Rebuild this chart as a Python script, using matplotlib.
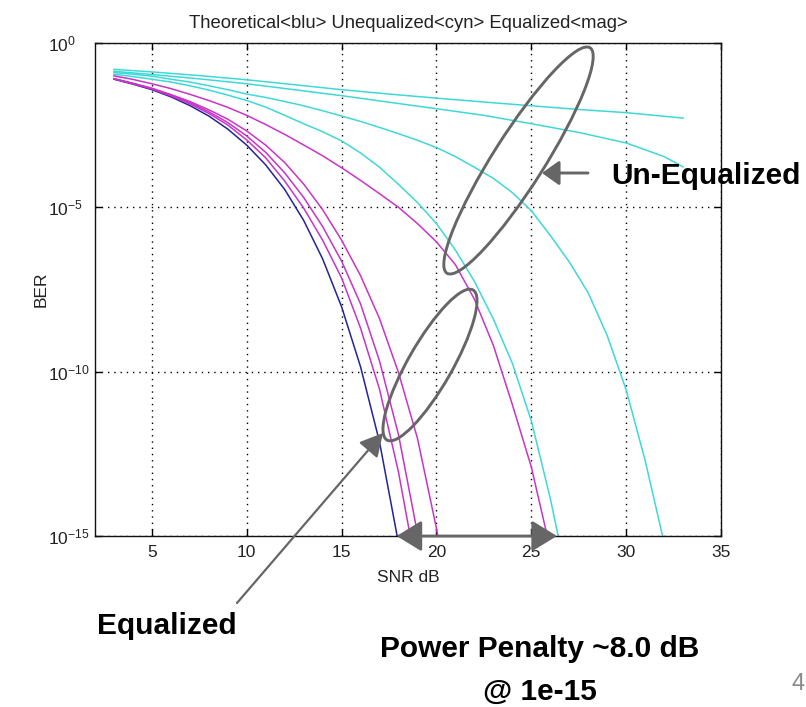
import numpy as np
import matplotlib
matplotlib.use('Agg')
import matplotlib.pyplot as plt
from matplotlib.patches import Ellipse, FancyArrowPatch

# ---------------- data ----------------
snr_theory = [3, 4, 5, 6, 7, 8, 9, 10, 11, 12, 13, 14, 15, 16, 17, 18]
ber_theory = [7.9e-2, 5.6e-2, 3.8e-2, 2.3e-2, 1.25e-2, 6.0e-3, 2.4e-3, 7.8e-4,
              1.95e-4, 3.5e-5, 4.0e-6, 2.7e-7, 9.4e-9, 1.4e-10, 7.2e-13, 6.0e-16]

# equalized (magenta)
snr_eq1 = [3, 4, 5, 6, 7, 8, 9, 10, 11, 12, 13, 14, 15, 16, 17, 18, 19]
ber_eq1 = [8.1e-2, 5.75e-2, 4.0e-2, 2.45e-2, 1.41e-2, 7.2e-3, 3.2e-3, 1.12e-3,
           3.2e-4, 6.3e-5, 9.5e-6, 1.0e-6, 7.1e-8, 2.1e-9, 2.9e-11, 8.7e-14, 6.3e-17]
snr_eq2 = [3, 4, 5, 6, 7, 8, 9, 10, 11, 12, 13, 14, 15, 16, 17, 18, 19, 20]
ber_eq2 = [8.2e-2, 5.9e-2, 4.1e-2, 2.6e-2, 1.55e-2, 8.1e-3, 3.8e-3, 1.48e-3,
           4.7e-4, 1.12e-4, 2.0e-5, 2.6e-6, 2.3e-7, 1.15e-8, 2.1e-10, 1.2e-12,
           1.2e-15, 3.0e-19]
snr_eq3 = [3, 4, 5, 6, 7, 8, 9, 10, 11, 12, 13, 14, 15, 16, 17, 18, 19, 20, 21]
ber_eq3 = [8.2e-2, 5.95e-2, 4.2e-2, 2.7e-2, 1.66e-2, 9.3e-3, 4.8e-3, 2.1e-3,
           7.8e-4, 2.3e-4, 5.1e-5, 8.5e-6, 1.0e-6, 8.3e-8, 4.1e-9, 9.3e-11,
           9.3e-13, 1.7e-15, 1.3e-18]
snr_eq4 = [3, 4, 5, 6, 7, 8, 9, 10, 11, 12, 13, 14, 15, 16, 17, 18, 19, 20,
           21, 22, 23, 24, 25, 26]
ber_eq4 = [1.0e-1, 7.8e-2, 5.75e-2, 4.1e-2, 2.75e-2, 1.78e-2, 1.1e-2, 6.3e-3,
           3.3e-3, 1.66e-3, 7.9e-4, 3.7e-4, 1.6e-4, 6.6e-5, 2.6e-5, 1.0e-5,
           3.2e-6, 8.9e-7, 1.8e-7, 1.6e-8, 6.3e-10, 1.0e-11, 1.26e-13, 4.0e-16]

# unequalized (cyan)
snr_un1 = [3, 5, 7.5, 10, 12.5, 15, 17.5, 20, 22.5, 25, 27.5, 30, 33]
ber_un1 = [1.58e-1, 1.32e-1, 1.02e-1, 7.6e-2, 5.4e-2, 3.8e-2, 2.8e-2, 2.1e-2,
           1.6e-2, 1.23e-2, 9.5e-3, 7.6e-3, 5.2e-3]
snr_un2 = [3, 5, 7.5, 10, 12.5, 15, 17.5, 20, 22.5, 25, 27.5, 30, 32, 33]
ber_un2 = [1.38e-1, 1.1e-1, 8.1e-2, 5.75e-2, 3.8e-2, 2.5e-2, 1.58e-2, 1.0e-2,
           6.3e-3, 3.5e-3, 1.9e-3, 9.1e-4, 3.5e-4, 1.7e-4]
snr_un3 = [3, 4, 5, 6, 7, 8, 9, 10, 11, 12, 13, 14, 15, 16, 17, 18, 19, 20,
           21, 22, 23, 24, 25, 26, 27, 28, 29, 30, 31, 32]
ber_un3 = [1.26e-1, 1.12e-1, 9.8e-2, 7.9e-2, 6.5e-2, 5.0e-2, 3.8e-2, 2.8e-2,
           2.2e-2, 1.66e-2, 1.23e-2, 8.7e-3, 6.0e-3, 4.1e-3, 2.7e-3, 1.74e-3,
           1.1e-3, 6.6e-4, 3.5e-4, 1.66e-4, 7.6e-5, 2.8e-5, 7.9e-6, 1.4e-6,
           2.2e-7, 2.5e-8, 1.26e-9, 2.8e-11, 2.0e-13, 6.3e-16]
snr_un4 = [3, 4, 5, 6, 7, 8, 9, 10, 11, 12, 13, 14, 15, 16, 17, 18, 19, 20,
           21, 22, 23, 24, 25, 26, 27]
ber_un4 = [1.12e-1, 9.5e-2, 7.9e-2, 6.5e-2, 5.0e-2, 3.7e-2, 2.6e-2, 1.78e-2,
           1.12e-2, 6.3e-3, 3.5e-3, 2.0e-3, 1.05e-3, 4.5e-4, 1.66e-4, 5.0e-5,
           1.4e-5, 3.2e-6, 5.0e-7, 5.6e-8, 4.0e-9, 1.8e-10, 3.2e-12, 1.4e-14,
           2.5e-17]

x_ticks = [5, 10, 15, 20, 25, 30, 35]
x_tick_labels = ['5', '10', '15', '20', '25', '30', '35']
y_ticks = [1e-15, 1e-10, 1e-5, 1e0]
y_tick_labels = [r'$\mathregular{10^{-15}}$', r'$\mathregular{10^{-10}}$',
                 r'$\mathregular{10^{-5}}$', r'$\mathregular{10^{0}}$']

title_text = 'Theoretical<blu> Unequalized<cyn> Equalized<mag>'
penalty_lo, penalty_hi = 17.9, 26.35   # arrow ends at BER 1e-15
penalty_ber = 1e-15

# ---------------- styling ----------------
plt.rcParams['font.family'] = ['Liberation Sans', 'DejaVu Sans']
plt.rcParams['mathtext.fontset'] = 'custom'
plt.rcParams['mathtext.rm'] = 'Liberation Sans'
plt.rcParams['mathtext.it'] = 'Liberation Sans:italic'
plt.rcParams['mathtext.bf'] = 'Liberation Sans:bold'

BLUE = '#23239a'
MAG = '#c834c8'
CYN = '#3fd8d8'
GRAY = '#666666'
TXT = '#222222'
BOLDFAM = ['Liberation Sans', 'DejaVu Sans']
ANN_FS = 21.5

W, H = 806, 707
fig = plt.figure(figsize=(W / 100, H / 100), dpi=100)
L, R, T, B = 95, 721, 43, 536
ax = fig.add_axes([L / W, 1 - B / H, (R - L) / W, (B - T) / H])
ax.set_yscale('log')
ax.set_xlim(2, 35)
ax.set_ylim(1e-15, 1)

lw = 1.1
ax.plot(snr_theory, ber_theory, color=BLUE, lw=lw)
for s, b in [(snr_un1, ber_un1), (snr_un2, ber_un2), (snr_un3, ber_un3), (snr_un4, ber_un4)]:
    ax.plot(s, b, color=CYN, lw=lw)
for s, b in [(snr_eq1, ber_eq1), (snr_eq2, ber_eq2), (snr_eq3, ber_eq3), (snr_eq4, ber_eq4)]:
    ax.plot(s, b, color=MAG, lw=lw)

ax.set_xticks(x_ticks)
ax.set_xticklabels(x_tick_labels)
ax.set_yticks(y_ticks)
ax.set_yticklabels(y_tick_labels, ha='left')
ax.minorticks_off()
ax.tick_params(axis='both', direction='in', length=5, width=1, top=True, right=True,
               labelsize=12.5, labelcolor=TXT)
ax.tick_params(axis='x', pad=6.5)
ax.tick_params(axis='y', pad=34)
ax.grid(True, which='major', linestyle=(0, (1, 3.5)), color='k', lw=1.0)
for sp in ax.spines.values():
    sp.set_linewidth(1.0)
    sp.set_color('#111111')

ax.set_title(title_text, fontsize=13.3, color=TXT, pad=10.5)
ax.set_xlabel('SNR dB', fontsize=12.5, color=TXT)
ax.xaxis.set_label_coords(0.5, -0.069)
ax.set_ylabel('BER', fontsize=12.5, color=TXT)
ax.yaxis.set_label_coords(-0.0735, 0.5)

# power-penalty double arrow along the 1e-15 line
pp = FancyArrowPatch((penalty_lo, penalty_ber), (penalty_hi, penalty_ber),
                     arrowstyle='<|-|>,head_length=15.5,head_width=9.5',
                     mutation_scale=1, color=GRAY, lw=2.0, shrinkA=0, shrinkB=0,
                     clip_on=False, zorder=6)
ax.add_patch(pp)

# ---------------- overlay for annotations (pixel coordinates) ----------------
ov = fig.add_axes([0, 0, 1, 1], zorder=5)
ov.set_xlim(0, W)
ov.set_ylim(H, 0)
ov.axis('off')
ov.patch.set_alpha(0)

ov.add_patch(Ellipse((518.5, 160.5), 267, 51, angle=-57.6, fill=False,
                     edgecolor=GRAY, lw=2.1))
ov.add_patch(Ellipse((430, 365), 173, 44, angle=-60.2, fill=False,
                     edgecolor=GRAY, lw=2.1))
ov.add_patch(FancyArrowPatch((588, 173), (542, 173),
                             arrowstyle='-|>,head_length=10.5,head_width=7.5',
                             mutation_scale=1, color=GRAY, lw=2.1,
                             shrinkA=0, shrinkB=0))
ov.add_patch(FancyArrowPatch((237, 603), (383, 433),
                             arrowstyle='-|>,head_length=14,head_width=7.5',
                             mutation_scale=1, color=GRAY, lw=1.6,
                             shrinkA=0, shrinkB=0))

ov.text(611, 184, 'Un-Equalized', fontsize=ANN_FS, fontweight='bold',
        family=BOLDFAM, ha='left', va='baseline', color='black')
ov.text(97, 634, 'Equalized', fontsize=ANN_FS, fontweight='bold',
        family=BOLDFAM, ha='left', va='baseline', color='black')
ov.text(540, 657, 'Power Penalty ~8.0 dB', fontsize=ANN_FS, fontweight='bold',
        family=BOLDFAM, ha='center', va='baseline', color='black')
ov.text(540, 700, '@ 1e-15', fontsize=ANN_FS, fontweight='bold',
        family=BOLDFAM, ha='center', va='baseline', color='black')
ov.text(792, 690, '4', fontsize=17, family=BOLDFAM, ha='left', va='baseline',
        color='#8a8a8a')

fig.savefig('out.png', dpi=100)
